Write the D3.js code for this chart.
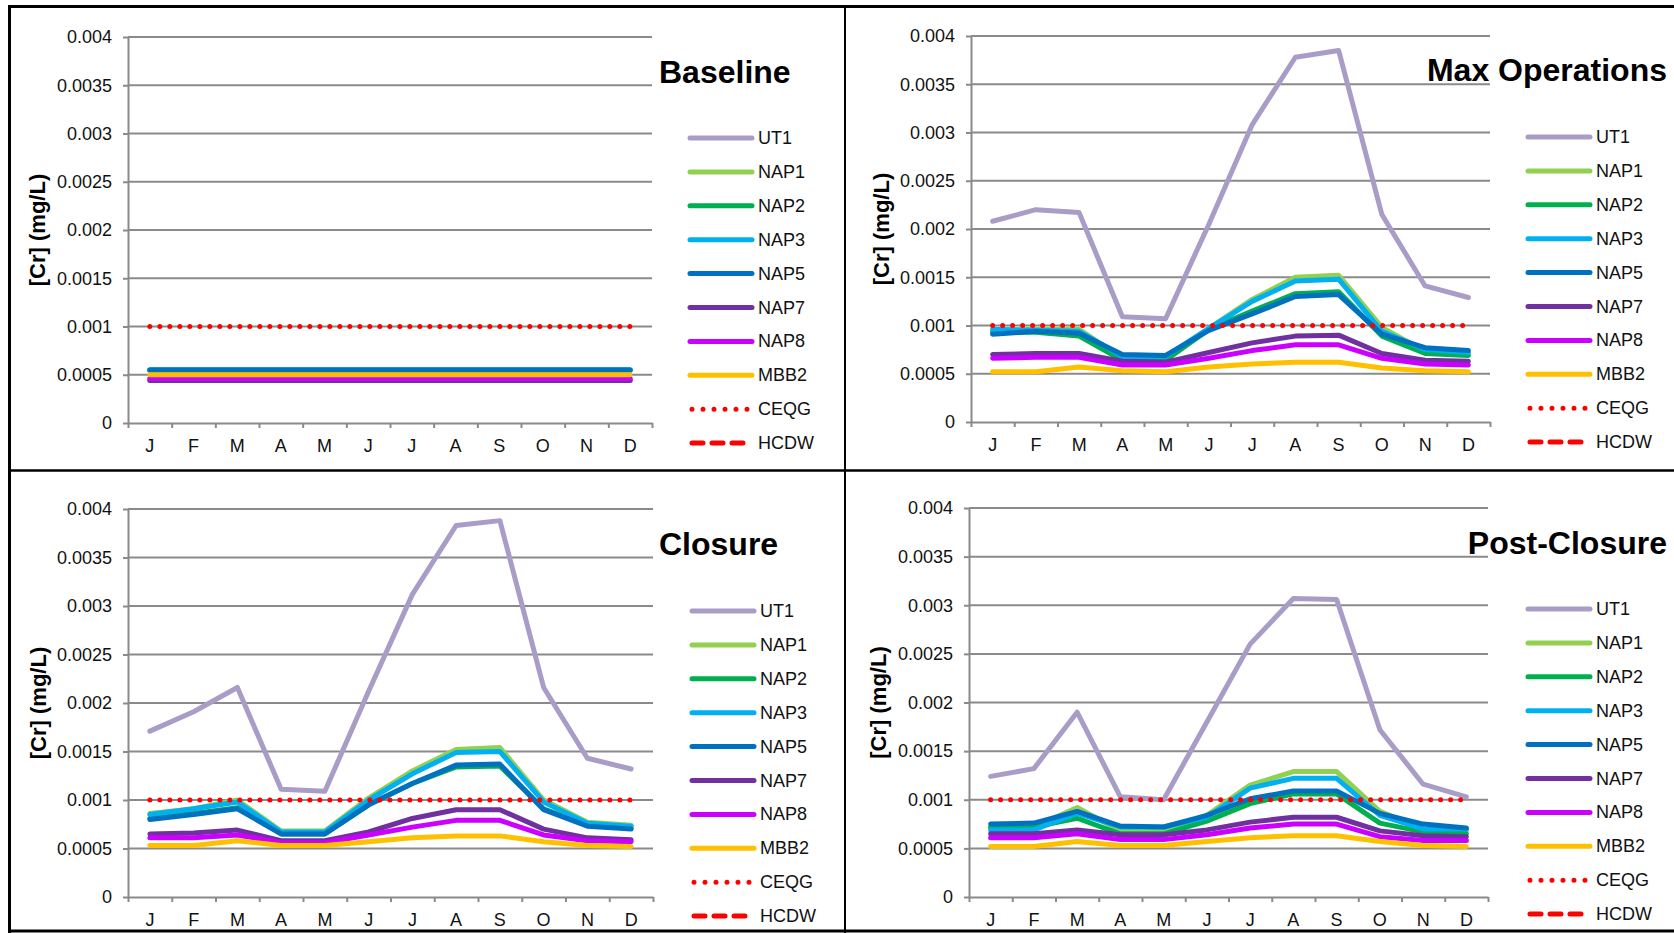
<!DOCTYPE html>
<html>
<head>
<meta charset="utf-8">
<script src="https://cdn.jsdelivr.net/npm/d3@7"></script>
<style>
  body { margin: 0; background: #fff; }
  svg { display: block; font-family: "Liberation Sans", Arial, sans-serif; }
</style>
</head>
<body>
<svg id="chart" width="1674" height="933"></svg>
<script>
// months on the x axis
const months = ["J", "F", "M", "A", "M", "J", "J", "A", "S", "O", "N", "D"];
const yTickLabels = ["0", "0.0005", "0.001", "0.0015", "0.002", "0.0025", "0.003", "0.0035", "0.004"];
const seriesNames = ["UT1", "NAP1", "NAP2", "NAP3", "NAP5", "NAP7", "NAP8", "MBB2"];
const seriesColors = ["#a99dc7", "#92d050", "#00b050", "#00b0f0", "#0070c0", "#7030a0", "#cc00ff", "#ffc000"];
const ceqgLevel = 0.001;

// one row per series, same order as seriesNames
const baselineValues = [
  [0.00045, 0.00045, 0.00045, 0.00045, 0.00045, 0.00045, 0.00045, 0.00045, 0.00045, 0.00045, 0.00045, 0.00045],
  [0.00055, 0.00055, 0.00055, 0.00055, 0.00055, 0.00055, 0.00055, 0.00055, 0.00055, 0.00055, 0.00055, 0.00055],
  [0.00055, 0.00055, 0.00055, 0.00055, 0.00055, 0.00055, 0.00055, 0.00055, 0.00055, 0.00055, 0.00055, 0.00055],
  [0.00055, 0.00055, 0.00055, 0.00055, 0.00055, 0.00055, 0.00055, 0.00055, 0.00055, 0.00055, 0.00055, 0.00055],
  [0.00055, 0.00055, 0.00055, 0.00055, 0.00055, 0.00055, 0.00055, 0.00055, 0.00055, 0.00055, 0.00055, 0.00055],
  [0.00044, 0.00044, 0.00044, 0.00044, 0.00044, 0.00044, 0.00044, 0.00044, 0.00044, 0.00044, 0.00044, 0.00044],
  [0.00046, 0.00046, 0.00046, 0.00046, 0.00046, 0.00046, 0.00046, 0.00046, 0.00046, 0.00046, 0.00046, 0.00046],
  [0.0005, 0.0005, 0.0005, 0.0005, 0.0005, 0.0005, 0.0005, 0.0005, 0.0005, 0.0005, 0.0005, 0.0005]
];

const maxOpsValues = [
  [0.00208, 0.0022, 0.00217, 0.00109, 0.00107, 0.00205, 0.00308, 0.00378, 0.00385, 0.00215, 0.00141, 0.00129],
  [0.00095, 0.00096, 0.00096, 0.00066, 0.00066, 0.00097, 0.00127, 0.0015, 0.00152, 0.00098, 0.00073, 0.0007],
  [0.00093, 0.00093, 0.00089, 0.00064, 0.00064, 0.00096, 0.00115, 0.00133, 0.00135, 0.00089, 0.00071, 0.00069],
  [0.00096, 0.00095, 0.00094, 0.00068, 0.00068, 0.00097, 0.00125, 0.00146, 0.00148, 0.00094, 0.00075, 0.00072],
  [0.00091, 0.00094, 0.00092, 0.0007, 0.00069, 0.00095, 0.00112, 0.0013, 0.00132, 0.00091, 0.00077, 0.00074],
  [0.0007, 0.00071, 0.00071, 0.00063, 0.00062, 0.00072, 0.00082, 0.00089, 0.0009, 0.00071, 0.00064, 0.00063],
  [0.00066, 0.00067, 0.00067, 0.00059, 0.00059, 0.00066, 0.00074, 0.0008, 0.0008, 0.00066, 0.0006, 0.00059],
  [0.00052, 0.00052, 0.00057, 0.00053, 0.00052, 0.00057, 0.0006, 0.00062, 0.00062, 0.00056, 0.00053, 0.00052]
];

const closureValues = [
  [0.00171, 0.00191, 0.00216, 0.00111, 0.00109, 0.00212, 0.00312, 0.00383, 0.00388, 0.00216, 0.00143, 0.00132],
  [0.00086, 0.00091, 0.001, 0.00068, 0.00068, 0.00102, 0.0013, 0.00152, 0.00154, 0.001, 0.00077, 0.00074],
  [0.00081, 0.00086, 0.00092, 0.00065, 0.00065, 0.00095, 0.00117, 0.00134, 0.00135, 0.00091, 0.00074, 0.00071],
  [0.00085, 0.00091, 0.00098, 0.00067, 0.00067, 0.001, 0.00127, 0.00149, 0.0015, 0.00098, 0.00076, 0.00073],
  [0.0008, 0.00085, 0.00091, 0.00065, 0.00065, 0.00095, 0.00117, 0.00136, 0.00137, 0.0009, 0.00073, 0.0007],
  [0.00065, 0.00066, 0.00069, 0.00058, 0.00058, 0.00067, 0.00081, 0.0009, 0.0009, 0.0007, 0.00061, 0.00059],
  [0.00061, 0.00061, 0.00064, 0.00056, 0.00056, 0.00064, 0.00072, 0.00079, 0.00079, 0.00064, 0.00058, 0.00057],
  [0.00053, 0.00053, 0.00058, 0.00053, 0.00053, 0.00057, 0.00061, 0.00063, 0.00063, 0.00057, 0.00053, 0.00052]
];

const postClosureValues = [
  [0.00124, 0.00132, 0.0019, 0.00103, 0.001, 0.0018, 0.0026, 0.00307, 0.00306, 0.00172, 0.00116, 0.00103],
  [0.00071, 0.00072, 0.00092, 0.00068, 0.00067, 0.00084, 0.00115, 0.00129, 0.00129, 0.00088, 0.0007, 0.00068],
  [0.00072, 0.00072, 0.00081, 0.00065, 0.00065, 0.00078, 0.00096, 0.00106, 0.00106, 0.00076, 0.00067, 0.00065],
  [0.00069, 0.00069, 0.00086, 0.00072, 0.00072, 0.00082, 0.00112, 0.00122, 0.00122, 0.00084, 0.0007, 0.0007],
  [0.00075, 0.00076, 0.00088, 0.00073, 0.00072, 0.00084, 0.00101, 0.00109, 0.00109, 0.00086, 0.00075, 0.00071],
  [0.00065, 0.00065, 0.00069, 0.00064, 0.00064, 0.00069, 0.00077, 0.00082, 0.00082, 0.00068, 0.00063, 0.00062],
  [0.00061, 0.00061, 0.00065, 0.00059, 0.00059, 0.00064, 0.00071, 0.00075, 0.00075, 0.00062, 0.00058, 0.00058],
  [0.00052, 0.00052, 0.00057, 0.00053, 0.00053, 0.00057, 0.00061, 0.00063, 0.00063, 0.00057, 0.00053, 0.00052]
];

const panels = [
  { title: "Baseline", values: baselineValues, x0: 128, x1: 652, yTop: 37, yZero: 423,
    titleX: 659, titleAnchor: "start", titleY: 83, legX: 690, legY: 138, ylabX: 37 },
  { title: "Max Operations", values: maxOpsValues, x0: 971, x1: 1490, yTop: 36, yZero: 422,
    titleX: 1667, titleAnchor: "end", titleY: 81, legX: 1528, legY: 137, ylabX: 881 },
  { title: "Closure", values: closureValues, x0: 128, x1: 653, yTop: 509, yZero: 897,
    titleX: 659, titleAnchor: "start", titleY: 555, legX: 692, legY: 611, ylabX: 38 },
  { title: "Post-Closure", values: postClosureValues, x0: 969, x1: 1488, yTop: 508, yZero: 897,
    titleX: 1667, titleAnchor: "end", titleY: 554, legX: 1528, legY: 609, ylabX: 878 }
];

const svg = d3.select("#chart");
const gridColor = "#8a8a8a";

function drawPanel(p) {
  const g = svg.append("g");
  const yMax = +yTickLabels[yTickLabels.length - 1];
  const y = d3.scaleLinear().domain([0, yMax]).range([p.yZero, p.yTop]);
  const xBand = d3.scaleBand().domain(d3.range(months.length)).range([p.x0, p.x1]);
  const xLin = d3.scaleLinear().domain([0, months.length]).range([p.x0, p.x1]);
  const xc = i => xBand(i) + xBand.bandwidth() / 2;

  // gridlines
  g.append("g").selectAll("line")
    .data(yTickLabels.slice(1))
    .join("line")
    .attr("x1", p.x0).attr("x2", p.x1)
    .attr("y1", d => y(+d)).attr("y2", d => y(+d))
    .attr("stroke", gridColor).attr("stroke-width", 2);

  // y axis
  const yAxis = g.append("g")
    .attr("transform", `translate(${p.x0},0)`)
    .call(d3.axisLeft(y)
      .tickValues(yTickLabels.map(Number))
      .tickFormat((d, i) => yTickLabels[i])
      .tickSizeInner(5).tickSizeOuter(0).tickPadding(11));
  yAxis.selectAll("path, line").attr("stroke", gridColor).attr("stroke-width", 2);
  yAxis.selectAll("text").attr("font-size", 18).attr("fill", "#111")
    .attr("font-family", "'Liberation Sans', Arial, sans-serif");

  // x axis with ticks on month boundaries
  const xAxis = g.append("g")
    .attr("transform", `translate(0,${p.yZero})`)
    .call(d3.axisBottom(xLin)
      .tickValues(d3.range(months.length + 1))
      .tickFormat("")
      .tickSizeInner(5).tickSizeOuter(0));
  xAxis.selectAll("path, line").attr("stroke", gridColor).attr("stroke-width", 2);

  g.append("g").selectAll("text")
    .data(months)
    .join("text")
    .attr("x", (d, i) => xc(i))
    .attr("y", p.yZero + 29)
    .attr("text-anchor", "middle")
    .attr("font-size", 18).attr("fill", "#111")
    .text(d => d);

  // y axis title
  g.append("text")
    .attr("transform", `translate(${p.ylabX},${(p.yTop + p.yZero) / 2}) rotate(-90)`)
    .attr("text-anchor", "middle")
    .attr("dominant-baseline", "central")
    .attr("font-size", 22).attr("font-weight", "bold")
    .text("[Cr] (mg/L)");

  // series
  const line = d3.line().x((d, i) => xc(i)).y(d => y(d));
  g.append("g").selectAll("path")
    .data(p.values)
    .join("path")
    .attr("d", line)
    .attr("fill", "none")
    .attr("stroke", (d, i) => seriesColors[i])
    .attr("stroke-width", 5)
    .attr("stroke-linejoin", "round")
    .attr("stroke-linecap", "round");

  // CEQG guideline
  g.append("path")
    .attr("d", line(months.map(() => ceqgLevel)))
    .attr("fill", "none")
    .attr("stroke", "#ff0000")
    .attr("stroke-width", 5)
    .attr("stroke-linecap", "round")
    .attr("stroke-dasharray", "0 10");

  // title
  g.append("text")
    .attr("x", p.titleX).attr("y", p.titleY)
    .attr("text-anchor", p.titleAnchor)
    .attr("font-size", 32).attr("font-weight", "bold")
    .text(p.title);

  // legend
  const legendItems = seriesNames.map((n, i) => ({ name: n, color: seriesColors[i], dash: null }))
    .concat([{ name: "CEQG", color: "#ff0000", dash: "0 11" },
             { name: "HCDW", color: "#ff0000", dash: "11 9" }]);
  const step = 33.9;
  const leg = g.append("g").selectAll("g")
    .data(legendItems)
    .join("g")
    .attr("transform", (d, i) => `translate(${p.legX},${p.legY + i * step})`);
  leg.append("line")
    .attr("x1", d => d.dash ? 2 : 0).attr("x2", 62)
    .attr("stroke", d => d.color)
    .attr("stroke-width", 5)
    .attr("stroke-linecap", "round")
    .attr("stroke-dasharray", d => d.dash);
  leg.append("text")
    .attr("x", 68).attr("y", 0)
    .attr("dominant-baseline", "central")
    .attr("font-size", 18).attr("fill", "#111")
    .text(d => d.name);
}

panels.forEach(drawPanel);

// frame and dividers
const frame = svg.append("g").attr("stroke", "#000");
frame.append("line").attr("x1", 9.5).attr("x2", 9.5).attr("y1", 5).attr("y2", 933).attr("stroke-width", 3);
frame.append("line").attr("x1", 8).attr("x2", 1674).attr("y1", 6.5).attr("y2", 6.5).attr("stroke-width", 3);
frame.append("line").attr("x1", 8).attr("x2", 1674).attr("y1", 931).attr("y2", 931).attr("stroke-width", 3);
frame.append("line").attr("x1", 845).attr("x2", 845).attr("y1", 5).attr("y2", 933).attr("stroke-width", 2);
frame.append("line").attr("x1", 8).attr("x2", 1674).attr("y1", 470.5).attr("y2", 470.5).attr("stroke-width", 2.5);
</script>
</body>
</html>
